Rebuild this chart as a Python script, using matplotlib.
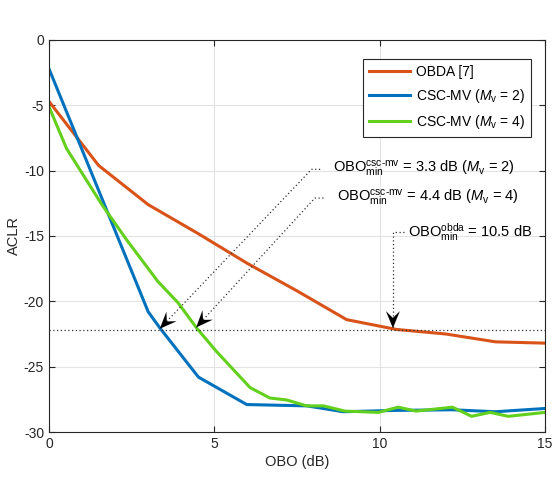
import matplotlib
matplotlib.use("Agg")

import numpy as np
import matplotlib.pyplot as plt
from matplotlib.patches import Polygon

plt.rcParams['font.family'] = ['Liberation Sans', 'DejaVu Sans']
plt.rcParams['mathtext.fontset'] = 'custom'
plt.rcParams['mathtext.rm'] = 'Liberation Sans'
plt.rcParams['mathtext.it'] = 'Liberation Sans:italic'
plt.rcParams['axes.unicode_minus'] = False

# OBDA [7]
obda_x = [0, 1.5, 3, 4.5, 6, 7.5, 9, 10.5, 12, 13.5, 15]
obda_y = [-4.7, -9.6, -12.6, -14.8, -17.1, -19.2, -21.4, -22.15, -22.5, -23.1, -23.2]

# CSC-MV (Mv = 2)
mv2_x = [0, 3.0, 3.36, 4.52, 5.98, 7.8, 8.9, 10.4, 12.2, 13.5, 15]
mv2_y = [-2.2, -20.8, -22.06, -25.8, -27.9, -28.0, -28.45, -28.35, -28.3, -28.45, -28.2]

# CSC-MV (Mv = 4)
mv4_x = [0, 0.53, 1.6, 2.35, 3.3, 3.9, 4.47, 5.07, 6.08, 6.68, 7.19, 7.79, 8.3,
         8.95, 9.96, 10.56, 11.1, 12.2, 12.78, 13.34, 13.89, 15]
mv4_y = [-5.1, -8.3, -12.6, -15.3, -18.5, -20.1, -22.06, -23.85, -26.6, -27.4, -27.55,
         -28.0, -28.0, -28.4, -28.5, -28.1, -28.4, -28.1, -28.8, -28.5, -28.8, -28.5]

aclr_target = -22.2
obo_mv2 = 3.3
obo_mv4 = 4.4
obo_obda = 10.5

c_obda = '#D95319'
c_mv2 = '#0072BD'
c_mv4 = '#62D01C'

fig = plt.figure(figsize=(5.54, 4.8), dpi=100)
ax = fig.add_axes([0.0884, 0.1, 0.8954, 0.8167])
ax.set_xlim(0, 15)
ax.set_ylim(-30, 0)

ax.plot(obda_x, obda_y, color=c_obda, lw=2.2, label='OBDA [7]')
ax.plot(mv2_x, mv2_y, color=c_mv2, lw=2.2, label=r'CSC-MV ($M_{\rm v}$ = 2)')
ax.plot(mv4_x, mv4_y, color=c_mv4, lw=2.2, label=r'CSC-MV ($M_{\rm v}$ = 4)')

# target ACLR level
ax.plot([0, 15], [aclr_target, aclr_target], color='#333333', lw=0.9, ls=(0, (1, 2)))

dot = dict(color='#333333', lw=0.9, ls=(0, (1, 2)))


def arrow_head(tip, frm, length=17, width=14):
    # concave ("vback") head built in pixels, then mapped back to data
    t = ax.transData.transform(tip)
    f = ax.transData.transform(frm)
    d = (f - t) / np.hypot(*(f - t))
    n = np.array([-d[1], d[0]])
    pts = [t,
           t + d * length + n * width / 2,
           t + d * length * 0.6,
           t + d * length - n * width / 2]
    pts = ax.transData.inverted().transform(np.array(pts))
    ax.add_patch(Polygon(pts, closed=True, color='black', lw=0, zorder=5))


def textarrow(kink, stub_x, text_x, tip, label):
    ax.plot([stub_x, kink[0], tip[0]], [kink[1], kink[1], tip[1]], **dot)
    arrow_head(tip, kink)
    ax.text(text_x, kink[1], label, ha='left', va='center', fontsize=10.5)


textarrow((7.94, -9.9), 8.2, 8.6, (obo_mv2 + 0.05, aclr_target + 0.1),
          r'OBO$^{\rm csc\text{-}mv}_{\rm min}$ = 3.3 dB ($M_{\rm v}$ = 2)')
textarrow((8.04, -12.1), 8.3, 8.7, (obo_mv4 + 0.05, aclr_target + 0.2),
          r'OBO$^{\rm csc\text{-}mv}_{\rm min}$ = 4.4 dB ($M_{\rm v}$ = 4)')
textarrow((10.4, -14.7), 10.75, 10.85, (obo_obda - 0.1, aclr_target + 0.15),
          r'OBO$^{\rm obda}_{\rm min}$ = 10.5 dB')

ax.set_xticks([0, 5, 10, 15])
ax.set_yticks([0, -5, -10, -15, -20, -25, -30])
ax.grid(True, color='#E3E3E3', lw=0.8)
ax.set_axisbelow(True)
ax.tick_params(direction='in', length=4, labelsize=10, colors='#262626',
               top=True, right=True)
for s in ax.spines.values():
    s.set_color('#262626')
    s.set_linewidth(0.8)

ax.set_xlabel('OBO (dB)', fontsize=10.5, color='#262626', labelpad=3)
ax.set_ylabel('ACLR', fontsize=10.5, color='#262626', labelpad=2)

leg = ax.legend(loc='upper right', bbox_to_anchor=(0.985, 0.969), fontsize=10,
                fancybox=False, edgecolor='#262626', framealpha=1,
                handlelength=3.0, handletextpad=0.4, borderpad=0.4,
                labelspacing=0.6)
leg.get_frame().set_linewidth(0.8)

fig.savefig('out.png', dpi=100)
